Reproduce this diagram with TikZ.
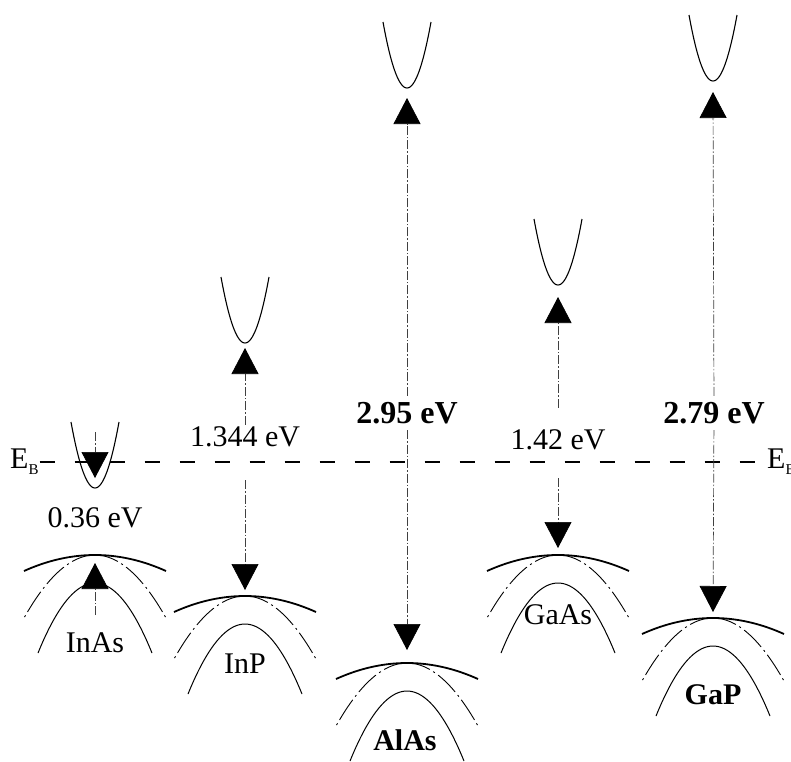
\documentclass[tikz,border=0pt]{standalone}
\usepackage{fontspec}
\setmainfont{Liberation Serif}
\usetikzlibrary{arrows.meta}
\newcommand{\condbandat}[2]{%
  \draw[cband] plot[domain=-24:24, samples=41, smooth] ({#1+\x},{#2-66*(\x/24)^2});}
\newcommand{\valbandat}[2]{%
  \draw[hh] plot[domain=-71:71, samples=41, smooth] ({#1+\x},{#2+16*(\x/71)^2});
  \draw[lh] plot[domain=0:71, samples=41, smooth] ({#1+\x},{#2+63*(\x/71)^2});
  \draw[lh] plot[domain=0:-71, samples=41, smooth] ({#1+\x},{#2+63*(\x/71)^2});
  \draw[so] plot[domain=-57:57, samples=41, smooth] ({#1+\x},{#2+28+70*(\x/57)^2});}
\begin{document}
\begin{tikzpicture}[x=1pt,y=-1pt,
  gaparrow/.style={draw=black!75, line width=0.7pt,
    dash pattern=on 9pt off 2pt on 1.5pt off 2pt,
    -{Triangle[width=27pt,length=26pt,color=black]}},
  cband/.style={line width=1.1pt},
  hh/.style={line width=1.8pt},
  lh/.style={line width=0.9pt, dash pattern=on 24pt off 4pt on 2pt off 4pt},
  so/.style={line width=1.0pt},
  ebline/.style={line width=1.3pt, dash pattern=on 15pt off 20pt},
  gaplbl/.style={font=\fontsize{30}{36}\selectfont, inner sep=2pt},
  gapbold/.style={font=\fontsize{32}{38}\selectfont\bfseries, inner sep=2pt},
  matlbl/.style={font=\fontsize{30}{36}\selectfont, inner sep=0pt},
  matbold/.style={font=\fontsize{30}{36}\selectfont\bfseries, inner sep=0pt},
  eblbl/.style={font=\fontsize{30}{36}\selectfont, inner sep=1pt},
  ]
\useasboundingbox (0,0) rectangle (791,761);

% E_B level
\node[eblbl, anchor=west] (EBl) at (9,462) {E\raisebox{-6pt}{\fontsize{15}{15}\selectfont B}};
\node[eblbl, anchor=west] (EBr) at (766,462) {E\raisebox{-6pt}{\fontsize{15}{15}\selectfont B}};
\draw[ebline] (EBl.east) -- (EBr.west);

% ---- InAs ----
\condbandat{95}{488}
\valbandat{95}{555}
\node[gaplbl] (InAs-gap) at (95,518) {0.36 eV};
\node[matlbl] (InAs-name) at (95,643) {InAs};
\coordinate (InAs-s1) at (95,432);
\coordinate (InAs-d) at (95,478);
\coordinate (InAs-s2) at (95,615);
\coordinate (InAs-u) at (95,563);
\draw[gaparrow] (InAs-s1) -- (InAs-d);
\draw[gaparrow] (InAs-s2) -- (InAs-u);

% ---- InP ----
\condbandat{245}{343}
\valbandat{245}{596}
\node[gaplbl] (InP-gap) at (245,437) {1.344 eV};
\node[matlbl] (InP-name) at (245,664) {InP};
\coordinate (InP-u) at (245,348);
\coordinate (InP-s) at (245,480);
\coordinate (InP-d) at (245,590);
\draw[gaparrow] (InP-gap) -- (InP-u);
\draw[gaparrow] (InP-s) -- (InP-d);

% ---- AlAs ----
\condbandat{407}{88}
\valbandat{407}{663}
\node[gapbold] (AlAs-gap) at (407,413) {2.95 eV};
\node[matbold] (AlAs-name) at (405,740) {AlAs};
\coordinate (AlAs-u) at (407,98);
\coordinate (AlAs-d) at (407,650);
\draw[gaparrow, shorten <=4pt] (AlAs-gap) -- (AlAs-u);
\draw[gaparrow, shorten <=4pt] (AlAs-gap) -- (AlAs-d);

% ---- GaAs ----
\condbandat{558}{285}
\valbandat{558}{555}
\node[gaplbl] (GaAs-gap) at (558,440) {1.42 eV};
\node[matlbl] (GaAs-name) at (558,615) {GaAs};
\coordinate (GaAs-u) at (558,297);
\coordinate (GaAs-s) at (558,478);
\coordinate (GaAs-d) at (558,548);
\draw[gaparrow, shorten <=20pt] (GaAs-gap) -- (GaAs-u);
\draw[gaparrow] (GaAs-s) -- (GaAs-d);

% ---- GaP ----
\condbandat{713}{81}
\valbandat{713}{618}
\node[gapbold] (GaP-gap) at (714,413) {2.79 eV};
\node[matbold] (GaP-name) at (713,695) {GaP};
\coordinate (GaP-u) at (713,92);
\coordinate (GaP-d) at (713,612);
\draw[gaparrow, shorten <=4pt] (GaP-gap) -- (GaP-u);
\draw[gaparrow, shorten <=4pt] (GaP-gap) -- (GaP-d);
\end{tikzpicture}
\end{document}
